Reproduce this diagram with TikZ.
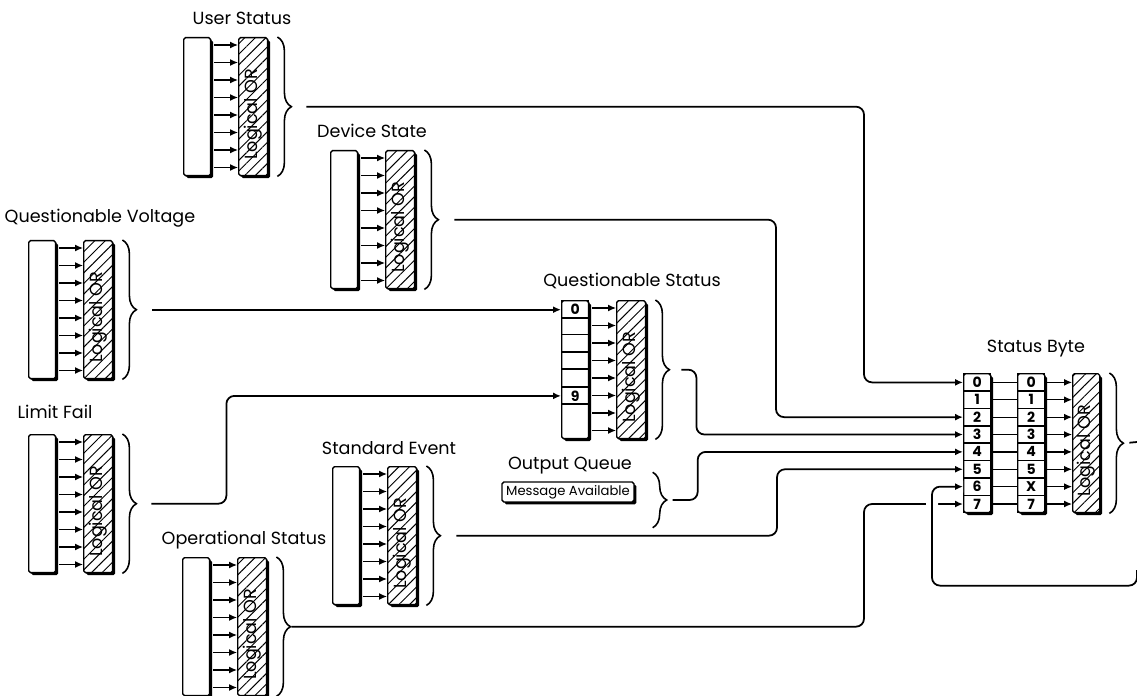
\documentclass[tikz,border=0pt]{standalone}
\usepackage{fontspec}
\setmainfont{Poppins}
\usetikzlibrary{arrows.meta,positioning,calc,shadows,patterns.meta,decorations.pathreplacing}

\begin{document}
\begin{tikzpicture}[
    x=0.02cm, y=-0.02cm,
    reg/.style={rectangle, draw, line width=0.8pt, rounded corners=1pt, fill=white, inner sep=0pt,
        minimum width=0.54cm, minimum height=2.76cm,
        general shadow={fill=black, shadow xshift=0.05cm, shadow yshift=-0.05cm}},
    orbox/.style={reg, minimum width=0.58cm,
        postaction={pattern={Lines[angle=45, distance=0.15cm, line width=0.55pt]}}},
    ortext/.style={rotate=90, inner sep=0pt, font=\fontsize{10}{11}\selectfont},
    cell/.style={rectangle, draw, line width=0.8pt, inner sep=0pt,
        minimum width=0.54cm, minimum height=0.3475cm, font=\fontsize{8}{8}\selectfont\bfseries},
    msgbox/.style={reg, minimum width=2.64cm, minimum height=0.4cm, font=\fontsize{7.5}{8}\selectfont},
    lbl/.style={font=\fontsize{10}{12}\selectfont},
    bitarrow/.style={-{Latex[length=0.16cm, width=0.14cm]}, line width=0.7pt},
    conn/.style={-{Latex[length=0.16cm, width=0.14cm]}, line width=1pt, rounded corners=0.16cm},
    brace/.style={decorate, decoration={brace, amplitude=0.28cm}, line width=0.9pt}
]
    \useasboundingbox (0,0) rectangle (1137,696);

    % Event registers with their OR summary
    \foreach \n/\x/\y in {us/183/37, ds/330/150, qv/28/240, qs/561/300, lf/28/434, se/332/466, os/182/557} {
        \node[reg, anchor=north west] (\n-reg) at (\x,\y) {};
        \node[orbox, anchor=north west] (\n-or) at (\x+55,\y) {};
        \node[ortext] (\n-txt) at ([yshift=-0.15cm]\n-or.center) {Logical OR};
        \foreach \k in {0,...,7}
            \draw[bitarrow] ($(\n-reg.north east)+(3,8+17.5*\k)$) -- ($(\n-or.north west)+(0,8+17.5*\k)$);
        \draw[brace] ($(\n-or.north east)+(9,0)$) -- ($(\n-or.south east)+(9,0)$);
        \coordinate (\n-tip) at ($(\n-or.east)+(24,0)$);
    }

    % Questionable Status cells
    \foreach \k in {1,...,6}
        \draw[line width=0.8pt] ($(qs-reg.north west)+(0,17.3*\k)$) -- ($(qs-reg.north east)+(0,17.3*\k)$);
    \node[cell, anchor=north] (qs-c0) at (qs-reg.north) {0};
    \node[cell, anchor=north] (qs-c5) at ($(qs-reg.north)+(0,86.5)$) {9};

    % Titles
    \node[lbl] (us-lbl) at (242,18) {User Status};
    \node[lbl] (ds-lbl) at (372,131) {Device State};
    \node[lbl] (qv-lbl) at (100,218) {Questionable Voltage};
    \node[lbl] (qs-lbl) at (632,281) {Questionable Status};
    \node[lbl] (lf-lbl) at (55,412) {Limit Fail};
    \node[lbl] (se-lbl) at (389,448) {Standard Event};
    \node[lbl] (oq-lbl) at (570,466) {Output Queue};
    \node[lbl] (os-lbl) at (244,540) {Operational Status};
    \node[lbl] (sb-lbl) at (1036,349) {Status Byte};

    % Output queue
    \node[msgbox] (oq-msg) at (568,492) {Message Available};
    \draw[brace] ($(oq-msg.north east)+(18,-9)$) -- ($(oq-msg.south east)+(18,25)$);
    \coordinate (oq-tip) at ($(oq-msg.east)+(33,8)$);

    % Status byte
    \node[reg, minimum height=2.78cm, anchor=north west] (sb-col1) at (963,373) {};
    \node[reg, minimum height=2.78cm, anchor=north west] (sb-col2) at (1017,373) {};
    \node[orbox, minimum width=0.54cm, minimum height=2.78cm, anchor=north west] (sb-or) at (1072,373) {};
    \node[ortext] (sb-txt) at ([yshift=-0.15cm]sb-or.center) {Logical OR};
    \foreach \k/\v in {0/0, 1/1, 2/2, 3/3, 4/4, 5/5, 6/X, 7/7} {
        \node[cell, anchor=north] (sb-a\k) at ($(sb-col1.north)+(0,17.375*\k)$) {\k};
        \node[cell, anchor=north] (sb-b\k) at ($(sb-col2.north)+(0,17.375*\k)$) {\v};
        \draw[line width=0.7pt] (sb-a\k.east) -- (sb-b\k.west);
        \draw[bitarrow] (sb-b\k.east) -- (sb-b\k.east -| sb-or.west);
    }
    \draw[brace] ($(sb-or.north east)+(9,0)$) -- ($(sb-or.south east)+(9,0)$);
    \coordinate (sb-tip) at ($(sb-or.east)+(24,0)$);
    \coordinate (sb-out) at (1137,442);
    \coordinate (fb) at (1137,570);

    % Connections
    \draw[conn, shorten <=0.28cm] (us-tip) -| ($(sb-a0.west)+(-99,0)$) -- (sb-a0.west);
    \draw[conn, shorten <=0.3cm] (ds-tip) -| ($(sb-a2.west)+(-187,0)$) -- (sb-a2.west);
    \draw[conn, shorten <=0.3cm] (qv-tip) -- (qv-tip -| qs-c0.west);
    \draw[conn, shorten <=0.28cm] (lf-tip) -- ++(89,0) |- (qs-c5.west);
    \draw[conn, shorten <=0.22cm] (qs-tip) -- ++(26,0) |- (sb-a3.west);
    \draw[conn, shorten <=0.1cm] (oq-tip) -- ++(30,0) |- (sb-a4.west);
    \draw[conn, shorten <=0.3cm] (se-tip) -| ($(sb-a5.west)+(-186,0)$) -- (sb-a5.west);
    \draw[conn] (os-tip) -| ($(sb-a7.west)+(-99,0)$) -- (sb-a7.west);
    \draw[conn, preaction={draw=white, line width=0.24cm, -}] (fb) |- ($(sb-a6.west)+(-31,99)$) |- (sb-a6.west);
    \draw[line width=1pt, shorten <=0.1cm] (sb-tip) -- (sb-out);
\end{tikzpicture}
\end{document}
